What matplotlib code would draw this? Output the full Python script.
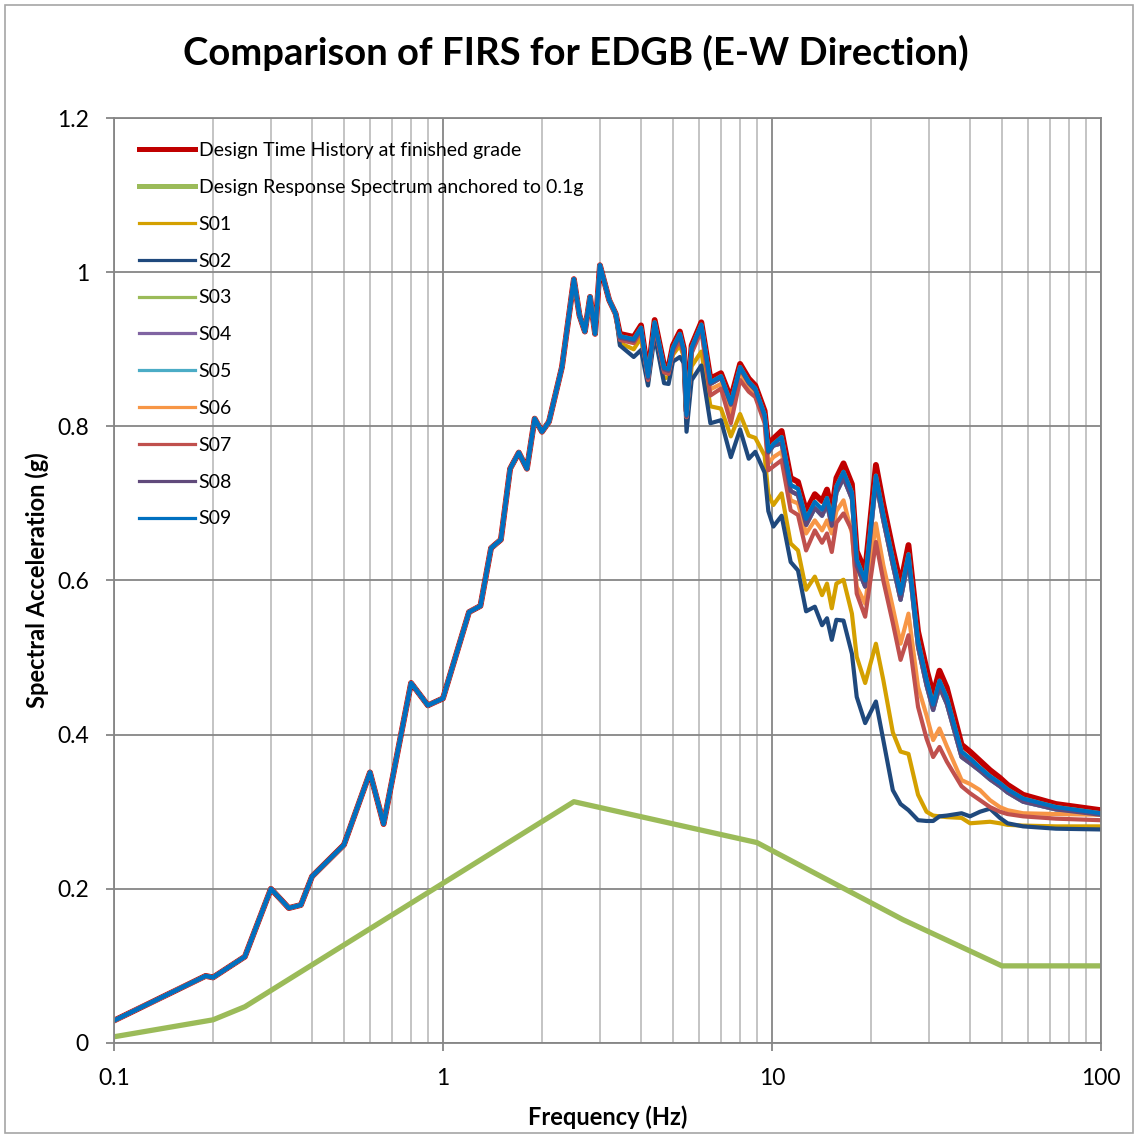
import matplotlib
matplotlib.use("Agg")
import matplotlib.pyplot as plt
from matplotlib.patches import Rectangle
from matplotlib.ticker import FixedLocator, NullFormatter
import numpy as np

plt.rcParams['font.family'] = ['Lato', 'DejaVu Sans']

# shared part of every spectrum below ~3.4 Hz (all curves sit on top of each other)
base_f = [0.1, 0.19, 0.2, 0.25, 0.3, 0.34, 0.37, 0.4, 0.5, 0.6, 0.66, 0.8, 0.9, 1.0,
          1.2, 1.3, 1.4, 1.5, 1.6, 1.7, 1.8, 1.9, 2.0, 2.1, 2.3, 2.5, 2.6, 2.7, 2.8,
          2.9, 3.0, 3.2, 3.35]
base_sa = [0.029, 0.087, 0.085, 0.112, 0.200, 0.175, 0.179, 0.216, 0.257, 0.351, 0.284,
           0.467, 0.438, 0.447, 0.559, 0.567, 0.642, 0.653, 0.745, 0.766, 0.745, 0.810,
           0.793, 0.806, 0.877, 0.991, 0.944, 0.923, 0.968, 0.920, 1.009, 0.964, 0.946]

# frequencies where the profiles split apart
high_f = [3.45, 3.8, 4.0, 4.2, 4.4, 4.7, 4.85, 5.0, 5.25, 5.4, 5.5, 5.7, 6.1, 6.5, 7.0,
          7.5, 8.0, 8.5, 8.9, 9.5, 9.75, 10.1, 10.7, 11.4, 12.0, 12.7, 13.5, 14.2, 14.7,
          15.2, 15.7, 16.5, 17.5, 18.1, 19.2, 20.7, 21.8, 23.3, 24.6, 26.0, 27.8, 29.5,
          30.9, 32.3, 34.0, 37.7, 40.0, 42.9, 46.0, 49.3, 52.0, 58.0, 73.0, 100.0]

th_sa = [0.920, 0.916, 0.931, 0.868, 0.938, 0.879, 0.877, 0.905, 0.923, 0.901, 0.820,
         0.905, 0.935, 0.862, 0.869, 0.836, 0.881, 0.862, 0.853, 0.820, 0.775, 0.784,
         0.794, 0.733, 0.728, 0.690, 0.712, 0.703, 0.718, 0.690, 0.733, 0.752, 0.725,
         0.638, 0.612, 0.750, 0.699, 0.640, 0.595, 0.646, 0.534, 0.485, 0.452, 0.483,
         0.461, 0.387, 0.378, 0.366, 0.354, 0.344, 0.335, 0.322, 0.310, 0.302]

s01_sa = [0.908, 0.900, 0.915, 0.858, 0.925, 0.862, 0.864, 0.893, 0.905, 0.890, 0.805,
          0.878, 0.897, 0.826, 0.823, 0.787, 0.816, 0.788, 0.785, 0.762, 0.712, 0.698,
          0.713, 0.648, 0.639, 0.588, 0.605, 0.581, 0.596, 0.564, 0.596, 0.601, 0.557,
          0.501, 0.467, 0.518, 0.471, 0.403, 0.378, 0.375, 0.322, 0.300, 0.295, 0.294,
          0.293, 0.292, 0.285, 0.286, 0.287, 0.285, 0.283, 0.282, 0.281, 0.281]

s02_sa = [0.905, 0.890, 0.899, 0.853, 0.918, 0.856, 0.855, 0.884, 0.890, 0.882, 0.793,
          0.860, 0.879, 0.804, 0.808, 0.760, 0.796, 0.758, 0.767, 0.740, 0.690, 0.670,
          0.684, 0.624, 0.613, 0.560, 0.566, 0.542, 0.551, 0.523, 0.549, 0.548, 0.505,
          0.449, 0.415, 0.443, 0.393, 0.328, 0.310, 0.302, 0.289, 0.288, 0.288, 0.294,
          0.295, 0.298, 0.294, 0.300, 0.304, 0.292, 0.285, 0.281, 0.278, 0.277]

s05_sa = [0.915, 0.911, 0.926, 0.863, 0.933, 0.874, 0.872, 0.900, 0.918, 0.896, 0.813,
          0.900, 0.930, 0.855, 0.863, 0.828, 0.875, 0.856, 0.847, 0.813, 0.766, 0.775,
          0.778, 0.716, 0.711, 0.672, 0.694, 0.684, 0.699, 0.671, 0.714, 0.733, 0.706,
          0.619, 0.592, 0.728, 0.678, 0.620, 0.575, 0.626, 0.514, 0.464, 0.432, 0.462,
          0.440, 0.371, 0.363, 0.353, 0.342, 0.333, 0.325, 0.313, 0.303, 0.296]

s06_sa = [0.914, 0.910, 0.925, 0.862, 0.932, 0.872, 0.870, 0.898, 0.915, 0.894, 0.812,
          0.897, 0.926, 0.848, 0.855, 0.815, 0.866, 0.850, 0.845, 0.810, 0.752, 0.760,
          0.767, 0.704, 0.700, 0.661, 0.678, 0.665, 0.678, 0.661, 0.690, 0.704, 0.661,
          0.592, 0.570, 0.674, 0.620, 0.565, 0.518, 0.557, 0.462, 0.425, 0.393, 0.408,
          0.385, 0.341, 0.336, 0.328, 0.315, 0.306, 0.302, 0.298, 0.297, 0.296]

s07_sa = [0.912, 0.908, 0.923, 0.860, 0.930, 0.870, 0.868, 0.896, 0.912, 0.892, 0.812,
          0.895, 0.924, 0.840, 0.849, 0.804, 0.860, 0.845, 0.838, 0.804, 0.743, 0.748,
          0.756, 0.691, 0.685, 0.639, 0.665, 0.649, 0.661, 0.637, 0.675, 0.687, 0.665,
          0.583, 0.553, 0.650, 0.600, 0.545, 0.497, 0.529, 0.436, 0.395, 0.371, 0.384,
          0.365, 0.333, 0.324, 0.315, 0.306, 0.300, 0.297, 0.294, 0.291, 0.289]

s09_sa = [0.917, 0.913, 0.928, 0.865, 0.935, 0.876, 0.874, 0.902, 0.920, 0.898, 0.815,
          0.902, 0.932, 0.857, 0.865, 0.830, 0.877, 0.858, 0.849, 0.815, 0.768, 0.777,
          0.786, 0.724, 0.719, 0.680, 0.702, 0.692, 0.707, 0.679, 0.722, 0.741, 0.714,
          0.627, 0.600, 0.736, 0.686, 0.628, 0.583, 0.634, 0.522, 0.472, 0.439, 0.470,
          0.448, 0.378, 0.369, 0.357, 0.346, 0.337, 0.329, 0.317, 0.306, 0.298]

# S03, S04 and S08 run inside the S05/S09 band and are hidden by it
s03_sa = s09_sa
s04_sa = s05_sa
s08_sa = s05_sa

# design response spectrum anchored to 0.1g
drs_f = [0.1, 0.2, 0.25, 2.5, 9.0, 25.0, 50.0, 100.0]
drs_sa = [0.008, 0.030, 0.047, 0.313, 0.260, 0.160, 0.100, 0.100]

profiles = ['S01', 'S02', 'S03', 'S04', 'S05', 'S06', 'S07', 'S08', 'S09']
profile_sa = [s01_sa, s02_sa, s03_sa, s04_sa, s05_sa, s06_sa, s07_sa, s08_sa, s09_sa]
profile_colors = ['#D4A000', '#1F497D', '#9BBB59', '#8064A2', '#4BACC6',
                  '#F79646', '#C0504D', '#604A7B', '#0070C0']

freq = np.array(base_f + high_f)

fig = plt.figure(figsize=(11.35, 11.35), dpi=100)
ax = fig.add_axes([0.1004, 0.0811, 0.8696, 0.8149])

ax.plot(freq, base_sa + th_sa, color='#C00000', lw=4.2,
        label='Design Time History at finished grade', solid_joinstyle='round')
ax.plot(drs_f, drs_sa, color='#9BBB59', lw=3.8,
        label='Design Response Spectrum anchored to 0.1g', solid_joinstyle='round')
for name, sa, c in zip(profiles, profile_sa, profile_colors):
    ax.plot(freq, base_sa + sa, color=c, lw=3.0, label=name, solid_joinstyle='round')

ax.set_xscale('log')
ax.set_xlim(0.1, 100)
ax.set_ylim(0, 1.2)
ax.set_yticks(np.arange(0, 1.21, 0.2))
ax.set_yticklabels(['0', '0.2', '0.4', '0.6', '0.8', '1', '1.2'])
ax.xaxis.set_major_locator(FixedLocator([0.1, 1, 10, 100]))
ax.set_xticklabels(['0.1', '1', '10', '100'])
minor = [m * d for d in (0.1, 1, 10) for m in range(2, 10)]
ax.xaxis.set_minor_locator(FixedLocator(minor))
ax.xaxis.set_minor_formatter(NullFormatter())

ax.grid(which='major', color='#868686', lw=1.3)
ax.grid(which='minor', axis='x', color='#BFBFBF', lw=1.3)
ax.set_axisbelow(True)
for s in ax.spines.values():
    s.set_color('#868686')
    s.set_linewidth(1.3)
ax.tick_params(which='major', length=6, width=1.3, color='#868686',
               labelsize=16.5, pad=12)
ax.tick_params(which='minor', length=0)

# chart title sits centred on the whole chart area, not the plot area
fig.text(0.507, 0.953, 'Comparison of FIRS for EDGB (E-W Direction)', fontsize=27.5,
         fontweight='bold', ha='center', va='center')
ax.set_xlabel('Frequency (Hz)', fontsize=17, fontweight='bold', labelpad=12)
ax.set_ylabel('Spectral Acceleration (g)', fontsize=17, fontweight='bold', labelpad=6)

leg = ax.legend(loc='upper left', bbox_to_anchor=(0.008, 0.993), frameon=False,
                fontsize=14, handlelength=2.85, handletextpad=0.2,
                labelspacing=1.02)
for i, line in enumerate(leg.get_lines()):
    line.set_linewidth(3.6 if i < 2 else 2.3)

# light border round the whole chart
fig.patches.append(Rectangle((0.004, 0.002), 0.994, 0.994, transform=fig.transFigure,
                             fill=False, edgecolor='#A6A6A6', lw=1.2))

plt.savefig('out.png', dpi=100)
